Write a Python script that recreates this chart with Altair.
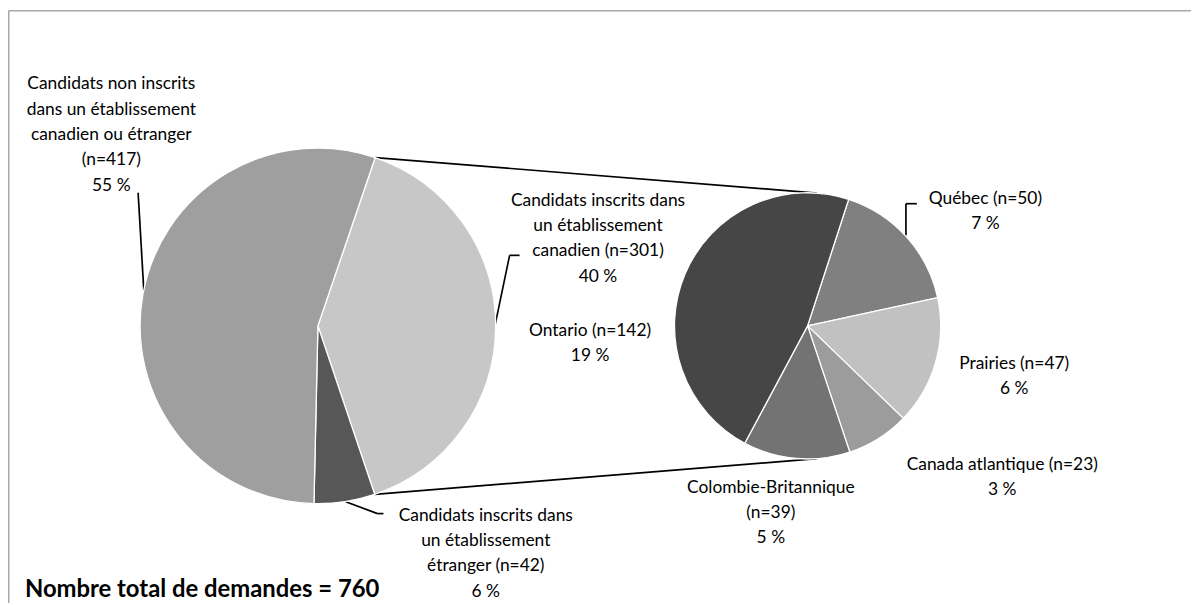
import math
import altair as alt
import pandas as pd

# ---------------- data ----------------
total_n = 760
main_cats = [
    "Candidats inscrits dans un établissement canadien",
    "Candidats inscrits dans un établissement étranger",
    "Candidats non inscrits dans un établissement canadien ou étranger",
]
main_n = [301, 42, 417]
main_pct = [40, 6, 55]

sub_cats = ["Québec", "Prairies", "Canada atlantique", "Colombie-Britannique", "Ontario"]
sub_n = [50, 47, 23, 39, 142]
sub_pct = [7, 6, 3, 5, 19]

# label wording (line breaks as in the original)
main_templates = [
    "Candidats inscrits dans\nun établissement\ncanadien (n={n})\n{p} %",
    "Candidats inscrits dans\nun établissement\nétranger (n={n})\n{p} %",
    "Candidats non inscrits\ndans un établissement\ncanadien ou étranger\n(n={n})\n{p} %",
]
sub_templates = [
    "Québec (n={n})\n{p} %",
    "Prairies (n={n})\n{p} %",
    "Canada atlantique (n={n})\n{p} %",
    "Colombie-Britannique\n(n={n})\n{p} %",
    "Ontario (n={n})\n{p} %",
]
total_text = "Nombre total de demandes = {}".format(total_n)

# ---------------- layout / style ----------------
W, H = 1191, 597
OFF = 8  # page margin


def px(v):
    return v - OFF


LEFT = dict(cx=320, cy=326, r=179, start=18.8)
RIGHT = dict(cx=813, cy=326, r=134, start=18.0)
main_colors = ["#c7c7c7", "#575757", "#9f9f9f"]
sub_colors = ["#808080", "#c1c1c1", "#9c9c9c", "#737373", "#464646"]

# (x centre, y of the first line)
main_label_pos = [(602, 200), (489, 517), (112, 83)]
sub_label_pos = [(992, 198), (1021, 364), (1009, 466), (776, 489), (594, 331)]
leader_paths = [
    [(139, 192), (145, 295)],
    [(498, 327), (513, 255), (523, 255)],
    [(348, 503), (380, 515), (386, 515)],
    [(912, 235), (912, 203), (923, 203)],
]
FONT = "Lato"
FS = 17.5
LH = 25.5


def polar(geo, deg):
    a = math.radians(deg)
    return geo["cx"] + geo["r"] * math.sin(a), geo["cy"] - geo["r"] * math.cos(a)


# ---------------- tables ----------------
left_df = pd.DataFrame({"cat": main_cats, "n": main_n, "ord": list(range(len(main_cats)))})
right_df = pd.DataFrame({"cat": sub_cats, "n": sub_n, "ord": list(range(len(sub_cats)))})

labels = []
for t, n, p, (x, y) in zip(main_templates, main_n, main_pct, main_label_pos):
    labels.append({"text": t.format(n=n, p=p), "x": px(x), "y": px(y)})
for t, n, p, (x, y) in zip(sub_templates, sub_n, sub_pct, sub_label_pos):
    labels.append({"text": t.format(n=n, p=p), "x": px(x), "y": px(y)})
labels_df = pd.DataFrame(labels)

# connector lines between the two pies
span = main_n[0] / total_n * 360
a_top = polar(LEFT, LEFT["start"])
a_bot = polar(LEFT, LEFT["start"] + span)
b_top = polar(RIGHT, 4)
b_bot = polar(RIGHT, 176)
seg = []
for (p1, p2) in [(a_top, b_top), (a_bot, b_bot)]:
    seg.append({"x": px(p1[0]), "y": px(p1[1]), "x2": px(p2[0]), "y2": px(p2[1])})
for path in leader_paths:
    for p1, p2 in zip(path[:-1], path[1:]):
        seg.append({"x": px(p1[0]), "y": px(p1[1]), "x2": px(p2[0]), "y2": px(p2[1])})
seg_df = pd.DataFrame(seg)

frame_df = pd.DataFrame([
    {"x": 0.75, "y": 0.75, "x2": 0.75, "y2": H},
    {"x": 0.75, "y": 0.75, "x2": W, "y2": 0.75},
])

# ---------------- chart ----------------
frame = alt.Chart(frame_df).mark_rule(color="#a8a8a8", strokeWidth=1.5).encode(
    x=alt.X("x:Q", scale=None), y=alt.Y("y:Q", scale=None),
    x2="x2:Q", y2="y2:Q",
)

lines = alt.Chart(seg_df).mark_rule(color="#000000", strokeWidth=1.7).encode(
    x=alt.X("x:Q", scale=None), y=alt.Y("y:Q", scale=None),
    x2="x2:Q", y2="y2:Q",
)


def pie(df, geo, colors):
    start = math.radians(geo["start"])
    return alt.Chart(df).mark_arc(outerRadius=geo["r"], stroke="white", strokeWidth=1.3).encode(
        theta=alt.Theta("n:Q", stack=True, scale=alt.Scale(range=[start, start + 2 * math.pi])),
        order=alt.Order("ord:Q"),
        color=alt.Color("cat:N", scale=alt.Scale(domain=list(df["cat"]), range=colors), legend=None),
        x=alt.value(px(geo["cx"])),
        y=alt.value(px(geo["cy"])),
    )


left_pie = pie(left_df, LEFT, main_colors)
right_pie = pie(right_df, RIGHT, sub_colors)

text = alt.Chart(labels_df).mark_text(
    align="center", baseline="middle", lineBreak="\n", lineHeight=LH,
    font=FONT, fontSize=FS, color="#000000",
).encode(
    x=alt.X("x:Q", scale=None), y=alt.Y("y:Q", scale=None), text="text:N",
)

total = alt.Chart(pd.DataFrame({"text": [total_text]})).mark_text(
    align="left", baseline="alphabetic", font=FONT, fontSize=24, fontWeight="bold", color="#000000",
).encode(
    x=alt.value(px(25)), y=alt.value(px(599)), text="text:N",
)

chart = alt.layer(frame, lines, left_pie, right_pie, text, total).resolve_scale(
    theta="independent", color="independent"
).properties(
    width=W, height=H, padding=0, autosize=alt.AutoSizeParams(type="none"),
).configure_view(stroke=None)

chart.save("out.html", embed_options={"renderer": "svg", "actions": False})
